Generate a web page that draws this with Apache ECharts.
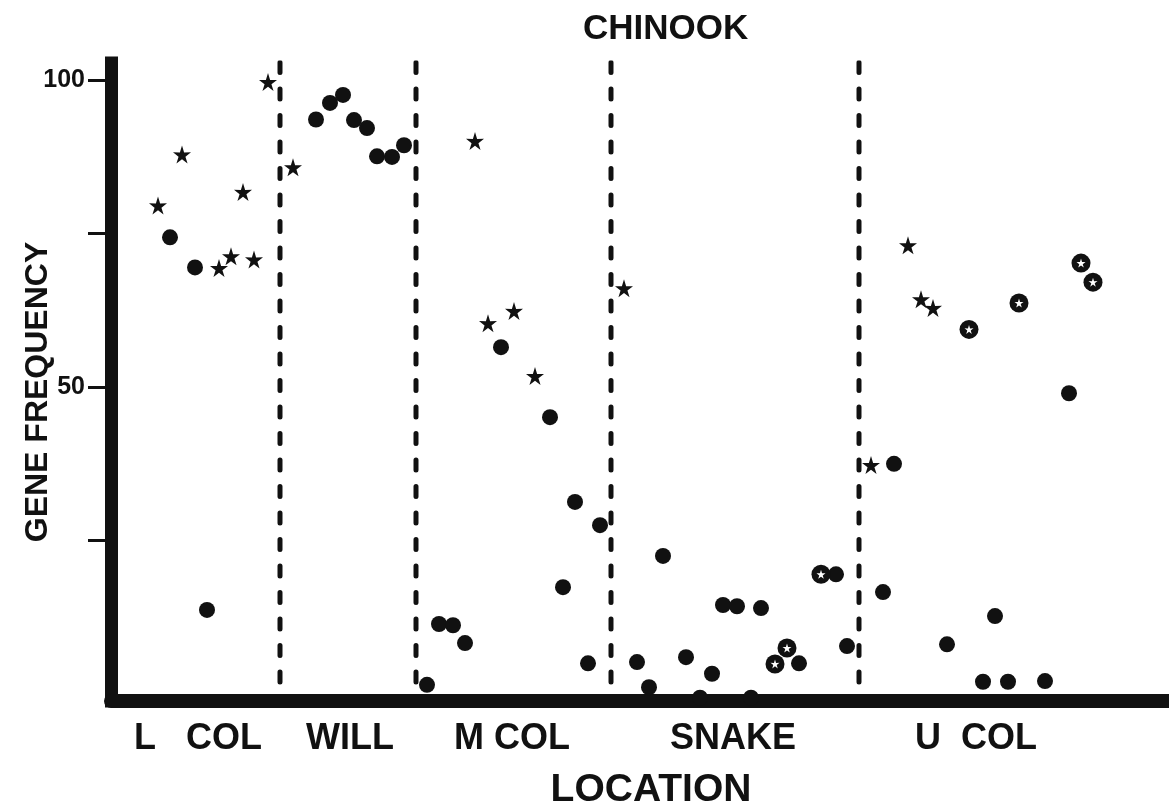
<!DOCTYPE html>
<html>
<head>
<meta charset="utf-8">
<script src="https://cdn.jsdelivr.net/npm/echarts@6/dist/echarts.min.js"></script>
<style>
html,body{margin:0;padding:0;background:#fff;}
#chart{width:1169px;height:812px;}
</style>
</head>
<body>
<div id="chart"></div>
<script>
// ---- data (x = position along river, y = gene frequency %) ----
var starPoints = [
  [4.7,79.6],[7.1,87.9],[10.8,69.4],[12.0,71.3],[13.2,81.8],[14.3,70.8],[15.7,99.7],
  [18.2,85.8],[36.4,90.1],[37.7,60.4],[40.3,62.4],[42.4,51.8],[51.3,66.1],
  [76.0,37.3],[79.7,73.1],[81.0,64.3],[82.2,62.9]
];
var circlePoints = [
  [5.9,74.4],[8.4,69.5],[9.6,13.7],[20.5,93.6],[21.9,96.3],[23.2,97.6],[24.3,93.5],
  [25.6,92.2],[26.6,87.6],[28.1,87.5],[29.3,89.4],[31.6,1.5],[32.8,11.4],[34.2,11.2],
  [35.4,8.3],[39.0,56.5],[43.9,45.1],[45.2,17.4],[46.4,31.3],[47.7,5.0],[48.9,27.5],
  [52.6,5.2],[53.8,1.1],[55.2,22.5],[57.5,6.0],[58.9,-0.6],[60.1,3.3],[61.2,14.5],
  [62.6,14.3],[64.0,-0.6],[65.0,14.0],[68.8,5.0],[72.5,19.5],[73.6,7.8],[77.2,16.6],
  [78.3,37.5],[83.6,8.1],[87.2,2.0],[88.4,12.7],[89.7,2.0],[93.4,2.1],[95.8,49.0]
];
var ringPoints = [
  [66.4,4.9],[67.6,7.5],[71.0,19.5],[85.8,59.4],[90.8,63.7],[97.0,70.2],[98.2,67.1]
];
var dividers = [16.9, 30.5, 50.0, 74.8];
var dividerTop = 102.9;
var regionNames = ['L   COL', 'WILL', 'M COL', 'SNAKE', 'U  COL'];
var regionCenters = [8.7, 23.9, 40.1, 62.2, 86.5];
var yTickValues = [25, 50, 75, 100];
var yLabelValues = [50, 100];

var INK = '#111111';
var FONT = '"Liberation Sans", Arial, sans-serif';
var STAR = 'path://M50,0 L61.2,35.3 L97.6,34.5 L68.2,56.5 L79.4,90.5 L50,69.5 L20.6,90.5 L31.8,56.5 L2.4,34.5 L38.8,35.3 Z';

var chart = echarts.init(document.getElementById('chart'), null, {renderer: 'canvas'});

var dividerSeries = dividers.map(function (x, i) {
  return {
    name: 'divider' + i,
    type: 'line',
    data: [[x, dividerTop], [x, 0]],
    symbol: 'none',
    silent: true,
    z: 1,
    lineStyle: {color: INK, width: 5, type: [10, 16.5], cap: 'round', opacity: 1}
  };
});

var option = {
  animation: false,
  backgroundColor: '#ffffff',
  title: {
    text: 'CHINOOK',
    left: 578,
    top: 7,
    textStyle: {fontFamily: FONT, fontSize: 35, fontWeight: 'bold', color: INK}
  },
  grid: {left: 111, right: 0, top: 63, bottom: 111, containLabel: false, outerBoundsMode: 'none'},
  xAxis: {
    type: 'value',
    min: 0,
    max: 105.8,
    name: 'LOCATION',
    nameLocation: 'middle',
    nameGap: 70,
    nameMoveOverlap: false,
    nameTextStyle: {fontFamily: FONT, fontSize: 39, fontWeight: 'bold', color: INK, padding: [0, 0, 0, 22]},
    axisLine: {onZero: false, lineStyle: {color: INK, width: 14}},
    axisTick: {show: false},
    splitLine: {show: false},
    axisLabel: {
      customValues: regionCenters,
      margin: 20,
      fontFamily: FONT, fontSize: 36, fontWeight: 'bold', color: INK,
      formatter: function (v) {
        for (var i = 0; i < regionCenters.length; i++) {
          if (Math.abs(regionCenters[i] - v) < 1e-6) return regionNames[i];
        }
        return '';
      }
    }
  },
  yAxis: {
    type: 'value',
    min: -1.14,
    max: 102.8,
    name: 'GENE FREQUENCY',
    nameLocation: 'middle',
    nameRotate: 90,
    nameGap: 57,
    nameMoveOverlap: false,
    nameTextStyle: {fontFamily: FONT, fontSize: 32, fontWeight: 'bold', color: INK, padding: [0, 0, 0, -20]},
    axisLine: {lineStyle: {color: INK, width: 13, cap: 'square'}},
    axisTick: {
      show: true,
      customValues: yTickValues,
      length: 23,
      lineStyle: {color: INK, width: 3}
    },
    splitLine: {show: false},
    axisLabel: {
      customValues: yLabelValues,
      margin: 26,
      fontFamily: FONT, fontSize: 25, fontWeight: 'bold', color: INK
    }
  },
  series: dividerSeries.concat([
    {
      name: 'circles',
      type: 'scatter',
      symbol: 'circle',
      symbolSize: 16,
      itemStyle: {color: INK, opacity: 1},
      data: circlePoints,
      silent: true
    },
    {
      name: 'stars',
      type: 'scatter',
      symbol: STAR,
      symbolSize: 18,
      itemStyle: {color: INK, opacity: 1},
      data: starPoints,
      silent: true
    },
    {
      name: 'rings',
      type: 'scatter',
      symbol: 'circle',
      symbolSize: 19,
      itemStyle: {color: INK, opacity: 1},
      data: ringPoints,
      silent: true
    },
    {
      name: 'ringCentres',
      type: 'scatter',
      symbol: STAR,
      symbolSize: 9,
      itemStyle: {color: '#ffffff', opacity: 1},
      data: ringPoints,
      silent: true,
      z: 3
    }
  ])
};
chart.setOption(option);
</script>
</body>
</html>
